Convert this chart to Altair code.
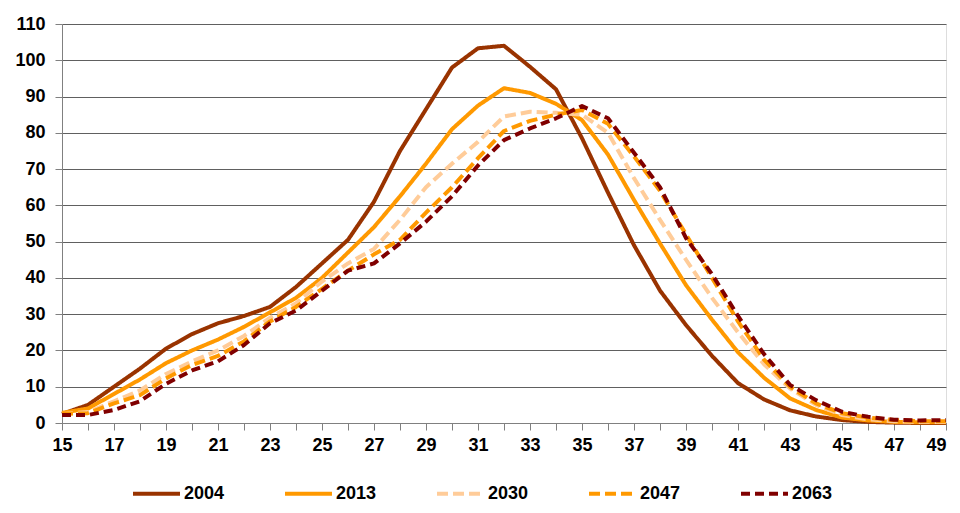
import altair as alt
import pandas as pd

ages = list(range(15, 50))
years = ["2004", "2013", "2030", "2047", "2063"]

v2004 = [2.5, 5, 10, 15, 20.5, 24.5, 27.5, 29.5, 32, 37.5, 44, 50.5, 61, 75, 86.5, 98, 103.3, 104,
         98.2, 92, 78.5, 63.5, 49, 36.5, 27, 18.5, 11, 6.5, 3.5, 1.8, 0.8, 0.3, 0.1, 0, 0]
v2013 = [2.8, 4, 8, 12, 16.5, 20, 23, 26.5, 30.5, 34.5, 40, 47, 54, 62.5, 71.5, 81, 87.5, 92.3,
         91, 88, 83.5, 74, 61.5, 49.5, 38, 28.5, 19.5, 12.5, 6.8, 3.6, 1.5, 0.7, 0.3, 0.2, 0.2]
v2030 = [2.5, 3, 6, 9, 13.5, 17, 20, 24, 29, 33, 39, 44, 48, 56, 65, 71.5, 77.5, 84.5,
         85.8, 85.5, 85, 80, 67.5, 56, 45, 34.5, 25, 16.2, 9.5, 5, 2.2, 1, 0.5, 0.3, 0.3]
v2047 = [2.5, 2.7, 5.4, 7.7, 12.3, 16, 18.5, 22.5, 28, 32, 37, 42, 46.5, 50.5, 58, 65, 73, 80.5,
         83.3, 85, 86.3, 82.5, 73.5, 64, 52, 40, 28, 17.5, 10, 5.4, 2.7, 1.5, 0.8, 0.5, 0.5]
v2063 = [2.2, 2.2, 3.6, 6, 10.8, 14.5, 17, 21.5, 27.5, 31, 36.5, 42, 44, 49.5, 55.5, 62.5, 71, 78,
         81.2, 84, 87.4, 84, 74.5, 65, 51, 41, 29.5, 19, 10.5, 6.3, 3.1, 1.7, 0.9, 0.7, 0.8]

series = [v2004, v2013, v2030, v2047, v2063]
colors = ["#993300", "#FF9900", "#FFCC99", "#FF9900", "#800000"]
dashes = [[1, 0], [1, 0], [11, 5], [11, 5], [9, 5]]

rows = []
for yr, vals in zip(years, series):
    for a, v in zip(ages, vals):
        rows.append({"age": a, "value": v, "year": yr})
df = pd.DataFrame(rows)

FONT = "Liberation Sans"

legend = alt.Legend(
    title=None, orient="none", direction="horizontal", columns=5,
    legendX=69, legendY=444,
    symbolType="stroke", symbolSize=2209, symbolStrokeWidth=4,
    labelFont=FONT, labelFontSize=18, labelFontWeight="bold", labelColor="#000000",
    labelOffset=2, columnPadding=52, padding=0,
)

chart = alt.Chart(df).mark_line(strokeWidth=4, strokeCap="butt", strokeJoin="round").encode(
    x=alt.X("age:Q",
            scale=alt.Scale(domain=[15, 49], nice=False, zero=False),
            axis=alt.Axis(title=None, values=ages,
                          labelExpr="datum.value % 2 == 1 ? datum.label : ''",
                          labelAlign=alt.ExprRef("datum.value == 49 ? 'right' : 'center'"),
                          grid=False, tickSize=7, tickColor="#808080",
                          domainColor="#808080", labelPadding=6,
                          labelFont=FONT, labelFontSize=18, labelFontWeight="bold",
                          labelColor="#000000", labelFlush=False, labelOverlap=False)),
    y=alt.Y("value:Q",
            scale=alt.Scale(domain=[0, 110], nice=False),
            axis=alt.Axis(title=None, values=list(range(0, 111, 10)),
                          grid=True, gridColor="#606060", gridWidth=1,
                          tickSize=7, tickColor="#808080", domainColor="#808080",
                          labelPadding=10, labelFont=FONT, labelFontSize=18,
                          labelFontWeight="bold", labelColor="#000000")),
    color=alt.Color("year:N", scale=alt.Scale(domain=years, range=colors), legend=legend),
    strokeDash=alt.StrokeDash("year:N", scale=alt.Scale(domain=years, range=dashes), legend=legend),
    order=alt.Order("year:N"),
).properties(
    width=884, height=399,
    autosize=alt.AutoSizeParams(type="none"),
    padding={"left": 54, "top": 16, "right": 6, "bottom": 82},
).configure_view(stroke=None).configure(background="white")

chart.save("out.html", embed_options={"renderer": "svg", "actions": False})
